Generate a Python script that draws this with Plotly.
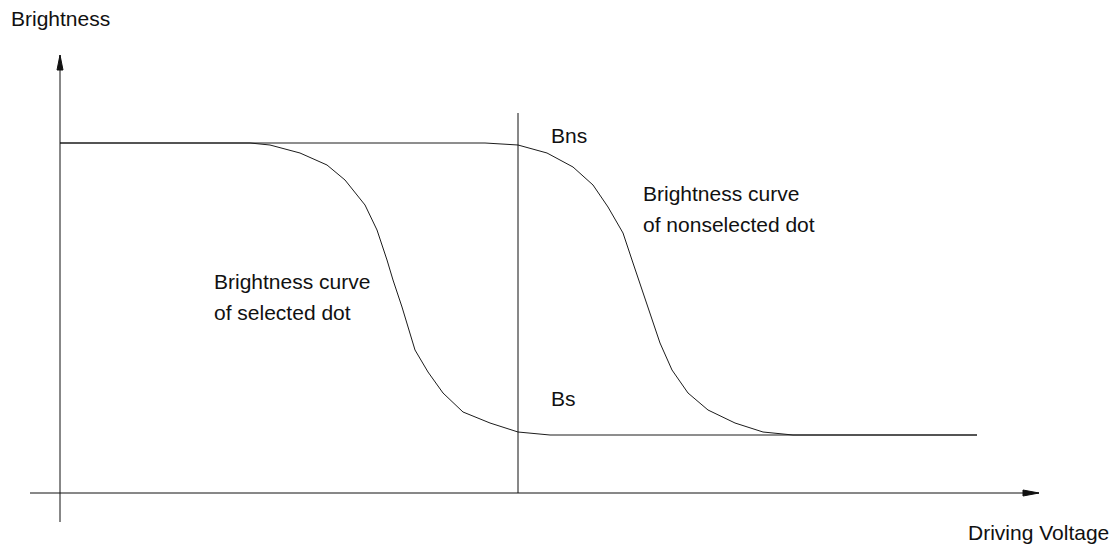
import plotly.graph_objects as go

# ---- data (arbitrary units) ----
# Brightness curve of the selected dot
sel_voltage = [0.00, 1.80, 1.90, 2.10, 2.40, 2.67, 2.85, 3.05, 3.17, 3.27, 3.33,
               3.42, 3.48, 3.55, 3.68, 3.83, 4.03, 4.30, 4.58, 4.90, 9.17]
sel_brightness = [3.50, 3.50, 3.50, 3.48, 3.40, 3.28, 3.13, 2.88, 2.63, 2.33, 2.13,
                  1.86, 1.66, 1.43, 1.21, 1.00, 0.81, 0.70, 0.61, 0.58, 0.58]
# Brightness curve of the nonselected dot
ns_voltage = [0.00, 4.25, 4.58, 4.87, 5.13, 5.33, 5.48, 5.63, 5.73, 5.83, 5.90,
              6.00, 6.12, 6.28, 6.48, 6.75, 7.03, 7.33, 9.17]
ns_brightness = [3.50, 3.50, 3.48, 3.40, 3.26, 3.08, 2.86, 2.60, 2.30, 2.00, 1.78,
                 1.50, 1.23, 1.00, 0.83, 0.70, 0.61, 0.58, 0.58]
# Driving voltage at which Bns and Bs are read
v_ref = 4.58

# ---- layout geometry (axis extents in data units) ----
X_RANGE = [-0.60, 10.55]
Y_RANGE = [-0.51, 4.93]
XAXIS_START, XAXIS_END = -0.30, 9.79
YAXIS_START, YAXIS_END = -0.29, 4.38
VLINE_TOP = 3.80

INK = "#111111"
CURVE = "#1c1c1c"
FONT = dict(family="Liberation Sans, Arial, sans-serif", size=21, color=INK)

fig = go.Figure()
fig.add_trace(go.Scatter(x=sel_voltage, y=sel_brightness, mode="lines",
                         line=dict(color=CURVE, width=1), hoverinfo="skip"))
fig.add_trace(go.Scatter(x=ns_voltage, y=ns_brightness, mode="lines",
                         line=dict(color=CURVE, width=1), hoverinfo="skip"))

shapes = [
    # x axis
    dict(type="line", x0=XAXIS_START, y0=0, x1=XAXIS_END, y1=0,
         line=dict(color=INK, width=1)),
    # y axis
    dict(type="line", x0=0, y0=YAXIS_START, x1=0, y1=YAXIS_END,
         line=dict(color=INK, width=1)),
    # reference voltage line
    dict(type="line", x0=v_ref, y0=0, x1=v_ref, y1=VLINE_TOP,
         line=dict(color=INK, width=1)),
    # arrowheads (pixel-sized, anchored at axis tips)
    dict(type="path", xsizemode="pixel", ysizemode="pixel",
         xanchor=XAXIS_END, yanchor=0, path="M0,0 L-16,3 L-16,-3 Z",
         fillcolor=INK, line=dict(color=INK, width=1)),
    dict(type="path", xsizemode="pixel", ysizemode="pixel",
         xanchor=0, yanchor=YAXIS_END, path="M0,0 L-3,-15 L3,-15 Z",
         fillcolor=INK, line=dict(color=INK, width=1)),
]

def label(text, x, y):
    return dict(text=text, x=x, y=y, xref="x", yref="y", xanchor="left",
                yanchor="middle", showarrow=False, font=FONT, borderpad=0)

annotations = [
    label("Brightness", -0.50, 4.745),
    label("Driving Voltage", 9.07, -0.395),
    label("Bns", 4.90, 3.575),
    label("Bs", 4.90, 0.945),
    label("Brightness curve", 5.82, 2.995),
    label("of nonselected dot", 5.82, 2.685),
    label("Brightness curve", 1.53, 2.115),
    label("of selected dot", 1.53, 1.805),
]

fig.update_layout(
    width=1115, height=544,
    margin=dict(l=0, r=0, t=0, b=0),
    paper_bgcolor="white", plot_bgcolor="white",
    showlegend=False,
    xaxis=dict(range=X_RANGE, visible=False, fixedrange=True),
    yaxis=dict(range=Y_RANGE, visible=False, fixedrange=True),
    shapes=shapes,
    annotations=annotations,
)

fig.write_html(
    "out.html",
    config={"displayModeBar": False},
    post_script="document.body.style.margin='0px';document.body.style.overflow='hidden';",
)
